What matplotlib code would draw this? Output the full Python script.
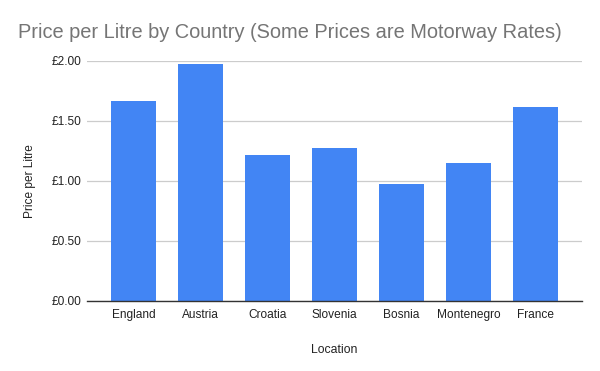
import numpy as np
import matplotlib
matplotlib.use("Agg")
import matplotlib.pyplot as plt
from matplotlib.ticker import FuncFormatter

plt.rcParams["font.family"] = ["Liberation Sans", "DejaVu Sans"]

locations = ["England", "Austria", "Croatia", "Slovenia", "Bosnia", "Montenegro", "France"]
prices = [1.665, 1.975, 1.215, 1.272, 0.975, 1.15, 1.617]
y_ticks = [0.0, 0.5, 1.0, 1.5, 2.0]


def main():
    fig = plt.figure(figsize=(6, 3.71), dpi=100)
    ax = fig.add_axes([0.145, 0.1887, 0.825, 0.647])

    x = np.arange(len(locations))
    ax.bar(x, prices, width=0.66, color="#4285F4", zorder=3)

    ax.set_xlim(-0.694, len(locations) - 1 + 0.694)
    ax.set_ylim(0, 2.0)
    ax.set_yticks(y_ticks)
    ax.yaxis.set_major_formatter(FuncFormatter(lambda v, _: f"£{v:.2f}"))
    ax.set_xticks(x)
    ax.set_xticklabels(locations)

    ax.grid(axis="y", color="#cccccc", linewidth=0.9, zorder=0)
    for side in ["top", "right", "left"]:
        ax.spines[side].set_visible(False)
    ax.spines["bottom"].set_color("#333333")
    ax.spines["bottom"].set_linewidth(1.0)
    ax.spines["bottom"].set_zorder(4)

    ax.tick_params(axis="both", length=0, labelsize=8.6, colors="#222222")
    ax.tick_params(axis="x", pad=6)
    ax.tick_params(axis="y", pad=4)

    ax.set_xlabel("Location", fontsize=8.8, color="#222222", labelpad=16)
    ax.set_ylabel("Price per Litre", fontsize=8.6, color="#222222", labelpad=11)

    fig.text(0.03, 0.912, "Price per Litre by Country (Some Prices are Motorway Rates)",
             fontsize=14.4, color="#757575", ha="left", va="center")

    fig.savefig("out.png", dpi=100, facecolor="white")


if __name__ == "__main__":
    main()
